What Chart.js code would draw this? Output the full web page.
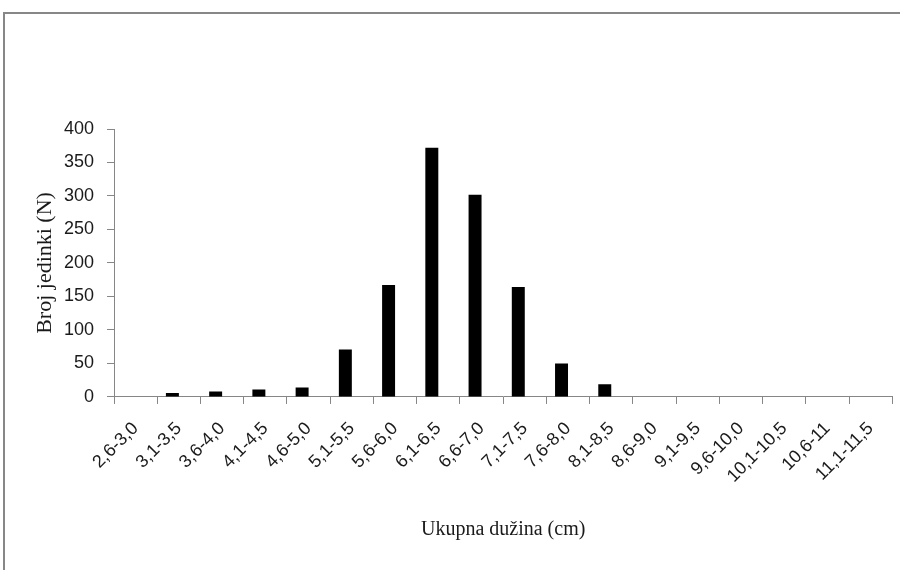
<!DOCTYPE html>
<html>
<head>
<meta charset="utf-8">
<script src="https://cdn.jsdelivr.net/npm/chart.js@4/dist/chart.umd.min.js"></script>
<style>
  html, body { margin: 0; padding: 0; background: #fff; }
  #wrap { position: relative; width: 900px; height: 570px; overflow: hidden; }
  #frame { position: absolute; left: 3px; top: 12px; width: 920px; height: 620px; border: 2px solid #878787; box-sizing: border-box; }
  #wrap canvas { position: absolute; left: 0; top: 0; }
</style>
</head>
<body>
<div id="wrap">
  <div id="frame"></div>
  <canvas id="chart" width="900" height="570"></canvas>
</div>
<script>
// Klase dužine (cm)
const lengthClasses = [
  "2,6-3,0", "3,1-3,5", "3,6-4,0", "4,1-4,5", "4,6-5,0", "5,1-5,5",
  "5,6-6,0", "6,1-6,5", "6,6-7,0", "7,1-7,5", "7,6-8,0", "8,1-8,5",
  "8,6-9,0", "9,1-9,5", "9,6-10,0", "10,1-10,5", "10,6-11", "11,1-11,5"
];
// Broj jedinki po klasi
const counts = [0, 6, 8, 11, 14, 71, 167, 372, 302, 164, 50, 19, 0, 0, 0, 0, 0, 0];
// prazna druga serija (kao u Excelu) - zauzima mjesto desno od stupca
const emptySeries = [null, null, null, null, null, null, null, null, null,
                     null, null, null, null, null, null, null, null, null];
const yTicks = [0, 50, 100, 150, 200, 250, 300, 350, 400];

const axisGray = "#868686";
const tickFont = { family: "'Liberation Sans', Arial, sans-serif", size: 18 };
const serif = "'Liberation Serif', 'Times New Roman', serif";

new Chart(document.getElementById("chart").getContext("2d"), {
  type: "bar",
  data: {
    labels: lengthClasses,
    datasets: [
      {
        data: counts,
        backgroundColor: "#000",
        borderWidth: 0,
        categoryPercentage: 0.6,
        barPercentage: 1,
      },
      {
        data: emptySeries,
        backgroundColor: "#000",
        borderWidth: 0,
        categoryPercentage: 0.6,
        barPercentage: 1,
      },
    ],
  },
  options: {
    responsive: false,
    animation: false,
    layout: { padding: { top: 129, right: 2, left: 37, bottom: 28 } },
    plugins: { legend: { display: false }, tooltip: { enabled: false } },
    scales: {
      x: {
        offset: true,
        grid: {
          offset: true,
          drawOnChartArea: false,
          drawTicks: true,
          tickLength: 7,
          color: axisGray,
        },
        border: { color: axisGray, width: 1 },
        ticks: {
          color: "#1a1a1a",
          font: tickFont,
          minRotation: 45,
          maxRotation: 45,
          autoSkip: false,
          padding: 14,
        },
        title: {
          display: true,
          text: "Ukupna dužina (cm)",
          color: "#1a1a1a",
          font: { family: serif, size: 20 },
          padding: { top: 17, bottom: 0 },
        },
      },
      y: {
        min: 0,
        max: 400,
        afterBuildTicks: (axis) => { axis.ticks = yTicks.map((v) => ({ value: v })); },
        grid: {
          drawOnChartArea: false,
          drawTicks: true,
          tickLength: 7,
          color: axisGray,
        },
        border: { color: axisGray, width: 1 },
        ticks: {
          color: "#1a1a1a",
          font: tickFont,
          padding: 13,
        },
        title: {
          display: true,
          text: "Broj jedinki (N)",
          color: "#1a1a1a",
          font: { family: serif, size: 22, lineHeight: 0.5 },
          padding: { top: 3, bottom: 0 },
        },
      },
    },
  },
});
</script>
</body>
</html>
